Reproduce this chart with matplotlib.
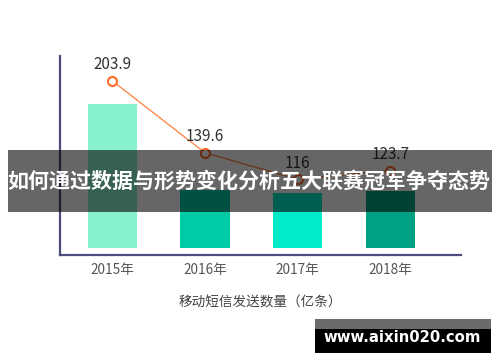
import matplotlib
matplotlib.use("Agg")
import matplotlib.pyplot as plt
from matplotlib.patches import Rectangle

plt.rcParams['font.family'] = ['Noto Sans CJK SC', 'DejaVu Sans']

# data
years = ['2015年', '2016年', '2017年', '2018年']
bar_vals = [100, 40, 38, 39.5]          # bars carry no labels, heights estimated
sms_vals = [203.9, 139.6, 116, 123.7]   # 移动短信发送数量（亿条）
bar_colors = ['#88f2cd', '#00cba7', '#00ebc9', '#00a283']

W, H = 500, 362
fig = plt.figure(figsize=(W / 100, H / 100), dpi=100)
fig.patch.set_facecolor('white')

# axes box in pixels: x 60..461, y 56..255
ax = fig.add_axes([60 / W, 1 - 254.7 / H, 400.7 / W, 198.7 / H])
x = list(range(len(years)))
ax.bar(x, bar_vals, width=0.53, color=bar_colors, zorder=2)
ax.set_xlim(-0.565, 3.758)
ax.set_ylim(-5.03, 133.9)

for s in ['top', 'right']:
    ax.spines[s].set_visible(False)
for s in ['left', 'bottom']:
    ax.spines[s].set_color('#4b4b7d')
    ax.spines[s].set_linewidth(1.6)
ax.set_yticks([])
ax.set_xticks(x)
ax.set_xticklabels(years, fontsize=9.8, color='#555555')
ax.tick_params(axis='x', length=0, pad=6)
ax.set_xlabel('移动短信发送数量（亿条）', fontsize=9.8, color='#444444', labelpad=13)

# line on its own scale
ax2 = ax.twinx()
ax2.set_ylim(48.5, 226.2)
ax2.axis('off')
ax2.plot(x, sms_vals, color='#ff8a4c', lw=1, marker='o', ms=6.5,
         mfc='white', mec='#ff6a26', mew=1.5, zorder=3)
for xi, v in zip(x, sms_vals):
    ax2.annotate(f'{v:g}', (xi, v), xytext=(0, 5.5), textcoords='offset points',
                 ha='center', va='bottom', fontsize=11, color='#333333')

# dark banner across the middle
fig.add_artist(Rectangle((8 / W, 1 - 211.7 / H), 484 / W, 61.7 / H,
                         transform=fig.transFigure, facecolor='black',
                         alpha=0.6, edgecolor='none', zorder=10))
fig.text(249 / W, 1 - 181.7 / H, '如何通过数据与形势变化分析五大联赛冠军争夺态势',
         ha='center', va='center', color='white', fontsize=15.1,
         fontweight='bold', zorder=11)

# watermark box
fig.add_artist(Rectangle((315 / W, 1 - 329 / H), 176 / W, 10 / H,
                         transform=fig.transFigure, facecolor='#6b6b6b',
                         edgecolor='none', zorder=10))
fig.add_artist(Rectangle((315 / W, 1 - 353 / H), 176 / W, 24 / H,
                         transform=fig.transFigure, facecolor='black',
                         edgecolor='none', zorder=10))
fig.text(402 / W, 1 - 337 / H, 'www.aixin020.com', ha='center', va='center',
         color='white', fontsize=10.7, fontweight='bold',
         family=['DejaVu Sans'], zorder=11)

fig.savefig('out.png', dpi=100)
